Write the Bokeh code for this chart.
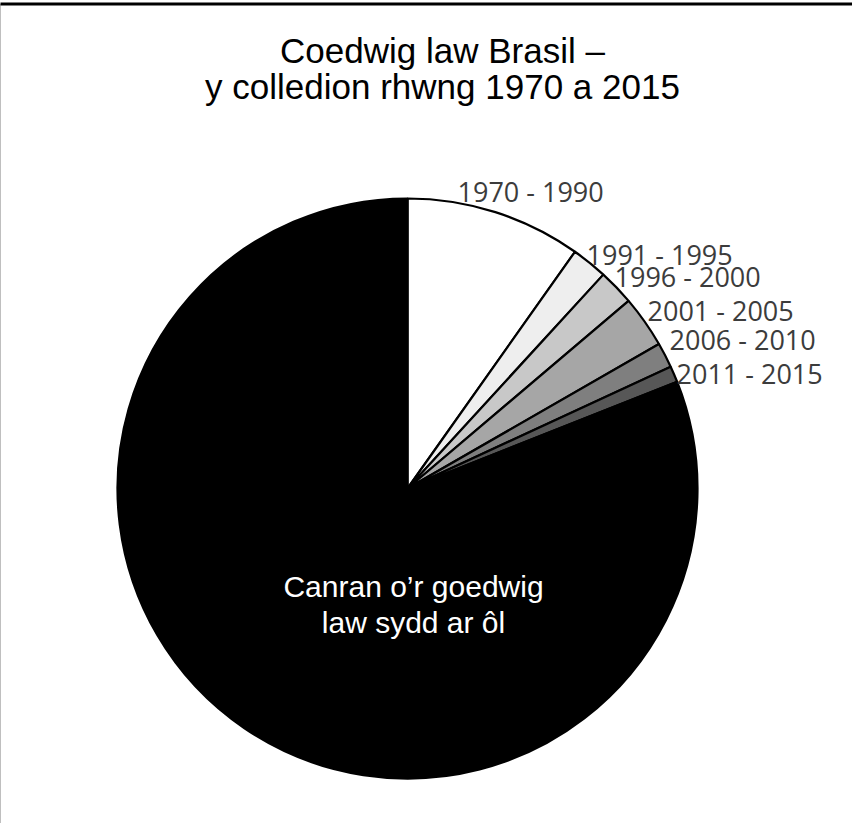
import numpy as np
from bokeh.plotting import figure
from bokeh.models import ColumnDataSource, Range1d
from bokeh.core.properties import value
from bokeh.embed import file_html
from bokeh.resources import INLINE

# ---- data ----
periods = ["1970 - 1990", "1991 - 1995", "1996 - 2000", "2001 - 2005",
           "2006 - 2010", "2011 - 2015", "Canran o’r goedwig law sydd ar ôl"]
shares = [9.8, 2.0, 2.0, 2.9, 1.4, 0.9, 81.0]
colors = ["#ffffff", "#eeeeee", "#c8c8c8", "#a6a6a6", "#7f7f7f", "#575757", "#000000"]
title_lines = ["Coedwig law Brasil –", "y colledion rhwng 1970 a 2015"]
centre_lines = ["Canran o’r goedwig", "law sydd ar ôl"]

# ---- layout (page pixel positions) ----
W, H = 852, 823
def px(x):
    return x - 8
def py(y):
    return H + 8 - y

cx, cy, R = px(415), py(496), 290
label_x = [465, 594, 622, 655, 677, 684]
label_y = [199, 262, 284, 318, 347, 381]

vals = np.array(shares, dtype=float)
frac = vals / vals.sum()
cum = np.cumsum(frac)
prev = np.concatenate([[0.0], cum[:-1]])
start = np.pi / 2 - 2 * np.pi * prev
end = np.pi / 2 - 2 * np.pi * cum

src = ColumnDataSource(dict(period=periods, share=shares, color=colors,
                            start=start, end=end))

p = figure(width=W, height=H, output_backend="svg", toolbar_location=None,
           x_range=Range1d(0, W), y_range=Range1d(0, H),
           min_border=0, outline_line_color=None)
p.axis.visible = False
p.grid.visible = False
p.background_fill_color = "white"
p.border_fill_color = "white"

# frame (left and top edges visible)
p.line([px(6.5), px(6.5)], [py(11.5), -10], line_color="black", line_width=3)
p.line([px(6.5), W + 10], [py(11.5), py(11.5)], line_color="black", line_width=3)

p.wedge(x=cx, y=cy, radius=R, start_angle="start", end_angle="end",
        direction="clock", fill_color="color", line_color="black",
        line_width=2.2, source=src)

# slice labels
lsrc = ColumnDataSource(dict(x=[px(v) for v in label_x],
                             y=[py(v) for v in label_y],
                             t=periods[:6]))
p.text(x="x", y="y", text="t", source=lsrc, text_font=value("Open Sans"),
       text_font_size="27px", text_color="#3c3c3c", text_align="left",
       text_baseline="middle")

# title
p.text(x=[px(450), px(450)], y=[py(58), py(94)], text=title_lines,
       text_font=value("Liberation Sans"), text_font_size="35px",
       text_color="black", text_align="center", text_baseline="middle")

# centre text
p.text(x=[px(421), px(421)], y=[py(594), py(630)], text=centre_lines,
       text_font=value("Liberation Sans"), text_font_size="30px",
       text_color="white", text_align="center", text_baseline="middle")

open("out.html", "w").write(file_html(p, INLINE))
